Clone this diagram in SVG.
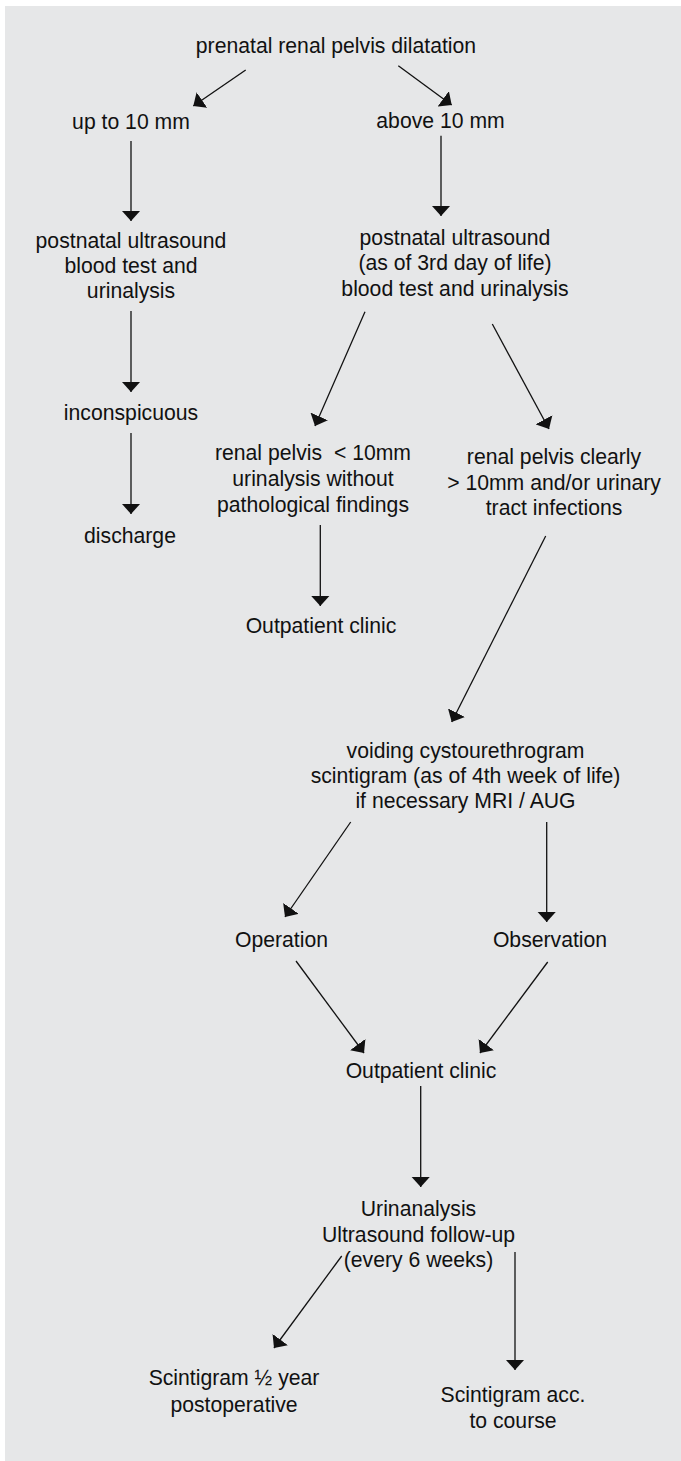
<svg xmlns="http://www.w3.org/2000/svg" width="681" height="1461" viewBox="0 0 681 1461">
<style>
text{font-family:"Liberation Sans",Arial,sans-serif;font-size:21.2px;fill:#111;text-anchor:middle}
.pre{white-space:pre}
.c line{stroke:#111;stroke-width:1.3;marker-end:url(#ah)}
</style>
<defs>
<marker id="ah" viewBox="0 0 10.5 19" refX="10.5" refY="9.5" markerWidth="10.5" markerHeight="19" markerUnits="userSpaceOnUse" orient="auto">
<path d="M0,0 L10.5,9.5 L0,19 Z" fill="#111"/>
</marker>
</defs>
<rect x="5" y="6" width="676" height="1455" fill="#e6e7e8"/>
<g id="n_title"><text x="336" y="53">prenatal renal pelvis dilatation</text></g>
<g id="n_up10"><text x="131" y="129">up to 10 mm</text></g>
<g id="n_above10"><text x="440.5" y="128">above 10 mm</text></g>
<g id="n_leftus"><text x="131" y="248">postnatal ultrasound</text><text x="131" y="273">blood test and</text><text x="131" y="298">urinalysis</text></g>
<g id="n_rightus"><text x="455" y="244.5">postnatal ultrasound</text><text x="455" y="270">(as of 3rd day of life)</text><text x="455" y="295.5">blood test and urinalysis</text></g>
<g id="n_inconsp"><text x="131" y="420">inconspicuous</text></g>
<g id="n_discharge"><text x="130" y="543">discharge</text></g>
<g id="n_renal_lt"><text class="pre" x="313" y="460">renal pelvis  &lt; 10mm</text><text x="313" y="486">urinalysis without</text><text x="313" y="512">pathological findings</text></g>
<g id="n_renal_gt"><text x="554" y="464">renal pelvis clearly</text><text x="554" y="490">&gt; 10mm and/or urinary</text><text x="554" y="515">tract infections</text></g>
<g id="n_outpat1"><text x="321" y="633">Outpatient clinic</text></g>
<g id="n_voiding"><text x="465.5" y="758">voiding cystourethrogram</text><text x="465.5" y="783">scintigram (as of 4th week of life)</text><text x="465.5" y="808">if necessary MRI / AUG</text></g>
<g id="n_operation"><text x="281.5" y="947">Operation</text></g>
<g id="n_observation"><text x="550" y="947">Observation</text></g>
<g id="n_outpat2"><text x="421" y="1078">Outpatient clinic</text></g>
<g id="n_urin"><text x="418.5" y="1216">Urinanalysis</text><text x="418.5" y="1242">Ultrasound follow-up</text><text x="418.5" y="1267">(every 6 weeks)</text></g>
<g id="n_scint_half"><text x="234" y="1385">Scintigram ½ year</text><text x="234" y="1411.5">postoperative</text></g>
<g id="n_scint_acc"><text x="513" y="1402">Scintigram acc.</text><text x="513" y="1428">to course</text></g>
<g id="connectors" class="c">
<line x1="245.7" y1="70" x2="193.3" y2="106"/>
<line x1="398.3" y1="65.7" x2="451.7" y2="105"/>
<line x1="131" y1="141" x2="131" y2="221"/>
<line x1="441" y1="135.7" x2="441" y2="216"/>
<line x1="131" y1="311" x2="131" y2="392"/>
<line x1="131" y1="433" x2="131" y2="514"/>
<line x1="365" y1="311.7" x2="315" y2="426"/>
<line x1="492.3" y1="324" x2="549" y2="429"/>
<line x1="320.3" y1="525" x2="320.3" y2="606"/>
<line x1="545.7" y1="536" x2="451.7" y2="722"/>
<line x1="350.7" y1="822" x2="285" y2="917"/>
<line x1="546.7" y1="822" x2="546.7" y2="922"/>
<line x1="296" y1="961" x2="364" y2="1053"/>
<line x1="547.7" y1="962" x2="480" y2="1053"/>
<line x1="420.7" y1="1086" x2="420.7" y2="1187"/>
<line x1="341.7" y1="1256" x2="274" y2="1348"/>
<line x1="515" y1="1252" x2="515" y2="1370"/>
</g>
</svg>
